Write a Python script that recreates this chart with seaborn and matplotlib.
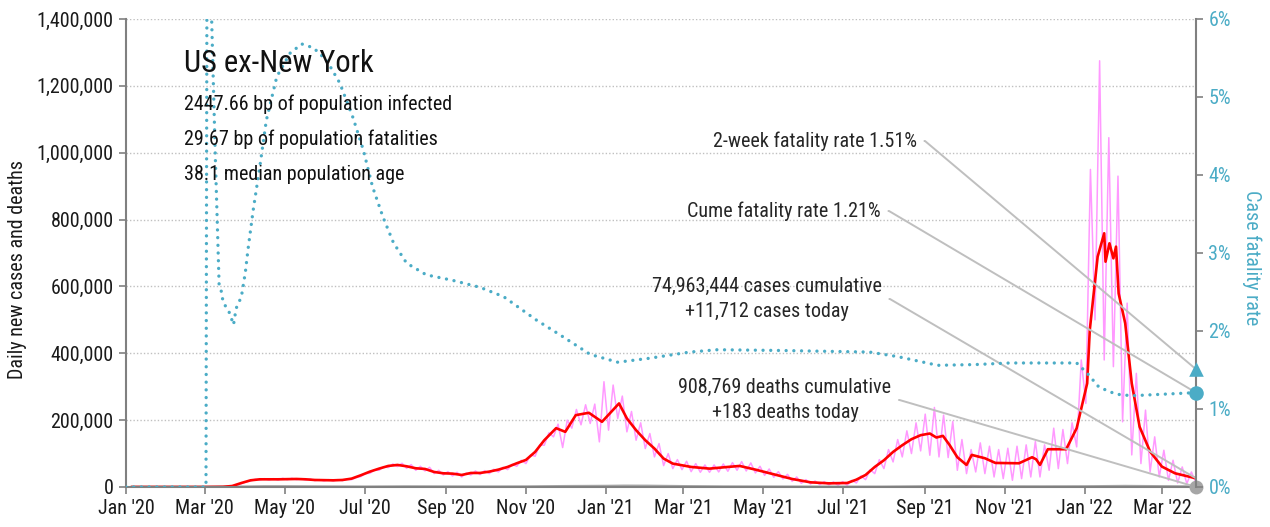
import numpy as np
import pandas as pd
import matplotlib
matplotlib.use("Agg")
import matplotlib.pyplot as plt
import matplotlib.dates as mdates
from matplotlib.ticker import MultipleLocator, FuncFormatter
from matplotlib import font_manager
import seaborn as sns

# ---- data (cases in thousands, CFR in %) ----
# raw daily cases, twice-weekly samples (low, high) starting 2020-03-01
pink_cases = [
    0, 0.2, 0.3, 1, 0.5, 1, 2, 6, 10, 15,                     # Mar 2020
    18, 23, 21, 25, 21, 25, 21, 26,                            # Apr
    22, 26, 22, 25, 21, 24, 19, 22, 18, 22,                    # May
    18, 22, 19, 23, 22, 28, 31, 40,                            # Jun
    41, 51, 50, 61, 58, 69, 61, 71,                            # Jul
    56, 67, 50, 62, 48, 59, 40, 50, 36, 46,                    # Aug
    33, 44, 30, 42, 36, 48, 37, 49,                            # Sep
    40, 53, 45, 59, 52, 68, 62, 80,                            # Oct
    70, 96, 92, 126, 125, 162, 150, 188, 118, 200,             # Nov
    176, 232, 186, 246, 190, 248, 135, 315,                    # Dec
    170, 305, 205, 272, 165, 226, 140, 192, 115, 160,          # Jan 2021
    90, 130, 64, 100, 55, 82, 52, 77,                          # Feb
    46, 70, 44, 66, 44, 66, 45, 69,                            # Mar
    47, 73, 50, 76, 48, 72, 42, 62,                            # Apr
    35, 54, 29, 46, 24, 38, 17, 30, 11, 22,                    # May
    9, 18, 7, 16, 6, 15, 5, 16,                                # Jun
    5, 20, 12, 33, 22, 52, 40, 82,                             # Jul
    55, 112, 75, 142, 90, 168, 100, 192, 108, 218,             # Aug
    95, 238, 90, 215, 88, 196, 50, 142,                        # Sep
    40, 112, 45, 132, 40, 122, 30, 112, 25, 116,               # Oct
    20, 122, 25, 126, 30, 136, 30, 126,                        # Nov
    50, 176, 55, 172, 70, 192, 120, 380,                       # Dec
    250, 950, 500, 1275, 380, 1045, 360, 930, 195, 550,        # Jan 2022
    96, 340, 70, 230, 45, 150, 30, 110,                        # Feb
    20, 80, 12, 60, 10, 45, 12,                                # Mar
]

# 7-day average of cases
red_dates = [
    "2020-01-05", "2020-03-01", "2020-03-15", "2020-03-22", "2020-03-29", "2020-04-05",
    "2020-04-12", "2020-04-26", "2020-05-10", "2020-05-17", "2020-05-24", "2020-06-07",
    "2020-06-14", "2020-06-21", "2020-06-28", "2020-07-05", "2020-07-12", "2020-07-19",
    "2020-07-26", "2020-08-02", "2020-08-09", "2020-08-16", "2020-08-23", "2020-08-30",
    "2020-09-06", "2020-09-13", "2020-09-20", "2020-09-27", "2020-10-04", "2020-10-11",
    "2020-10-18", "2020-10-25", "2020-11-01", "2020-11-08", "2020-11-15", "2020-11-24",
    "2020-12-01", "2020-12-09", "2020-12-19", "2020-12-29", "2021-01-11", "2021-01-17",
    "2021-01-24", "2021-01-31", "2021-02-07", "2021-02-14", "2021-02-21", "2021-03-07",
    "2021-03-21", "2021-04-04", "2021-04-13", "2021-04-25", "2021-05-09", "2021-05-23",
    "2021-06-06", "2021-06-20", "2021-07-04", "2021-07-11", "2021-07-18", "2021-07-25",
    "2021-08-01", "2021-08-08", "2021-08-15", "2021-08-22", "2021-08-29", "2021-09-05",
    "2021-09-10", "2021-09-15", "2021-09-20", "2021-09-26", "2021-10-03", "2021-10-07",
    "2021-10-17", "2021-10-25", "2021-11-12", "2021-11-22", "2021-11-25", "2021-11-28",
    "2021-12-04", "2021-12-18", "2021-12-26", "2022-01-03", "2022-01-05", "2022-01-11",
    "2022-01-16", "2022-01-17", "2022-01-20", "2022-01-23", "2022-01-25", "2022-01-27",
    "2022-02-01", "2022-02-06", "2022-02-12", "2022-02-20", "2022-03-01", "2022-03-11",
    "2022-03-27",
]
red_cases = [
    0, 0, 0.5, 3, 12, 20,
    23, 23, 24, 23, 21, 20,
    21, 25, 35, 46, 55, 63,
    66, 62, 56, 54, 45, 41,
    40, 36, 42, 42, 46, 52,
    60, 71, 81, 105, 140, 176,
    165, 215, 222, 195, 250, 205,
    170, 140, 115, 85, 70, 60,
    55, 60, 63, 52, 38, 24,
    14, 11, 12, 22, 36, 60,
    80, 105, 125, 143, 155, 160,
    148, 153, 126, 89, 66, 96,
    86, 72, 71, 89, 83, 66,
    113, 113, 176, 310, 470, 689,
    759, 674, 729, 684, 719, 579,
    490, 310, 180, 106, 61, 41,
    26,
]

# daily deaths, 7-day average (thousands)
death_dates = [
    "2020-01-05", "2020-03-01", "2020-04-01", "2020-04-15", "2020-05-01", "2020-06-01",
    "2020-07-01", "2020-08-01", "2020-09-01", "2020-10-01", "2020-11-01", "2020-12-01",
    "2021-01-01", "2021-01-15", "2021-02-01", "2021-03-01", "2021-04-01", "2021-05-01",
    "2021-06-01", "2021-07-01", "2021-08-01", "2021-09-01", "2021-10-01", "2021-11-01",
    "2021-12-01", "2022-01-01", "2022-02-01", "2022-03-01", "2022-03-27",
]
death_avg = [
    0, 0, 0.6, 1.4, 1.4, 0.9,
    0.5, 1.1, 0.9, 0.7, 0.9, 2.0,
    2.6, 3.2, 3.0, 1.8, 0.9, 0.7,
    0.45, 0.25, 0.4, 1.4, 1.8, 1.2,
    1.1, 1.3, 2.4, 1.6, 0.9,
]

# case fatality rate (%)
cfr_dates = [
    "2020-01-01", "2020-03-02", "2020-03-03", "2020-03-05", "2020-03-06", "2020-03-09",
    "2020-03-12", "2020-03-14", "2020-03-15", "2020-03-18", "2020-03-20", "2020-03-23",
    "2020-03-25", "2020-03-29", "2020-04-01", "2020-04-03", "2020-04-07", "2020-04-12",
    "2020-04-17", "2020-04-25", "2020-05-05", "2020-05-14", "2020-05-23", "2020-06-02",
    "2020-06-12", "2020-06-22", "2020-06-30", "2020-07-07", "2020-07-15", "2020-07-23",
    "2020-08-02", "2020-08-17", "2020-09-06", "2020-09-27", "2020-10-15", "2020-11-09",
    "2020-11-27", "2020-12-20", "2021-01-10", "2021-02-03", "2021-03-06", "2021-03-27",
    "2021-05-15", "2021-07-21", "2021-08-12", "2021-09-11", "2021-10-10", "2021-11-05",
    "2021-12-26", "2022-01-03", "2022-01-12", "2022-01-25", "2022-02-06", "2022-03-27",
]
cfr_pct = [
    0, 0, 9.0, 7.5, 6.2, 4.3,
    2.6, 2.49, 2.37, 2.29, 2.23, 2.08,
    2.29, 2.44, 2.75, 3.04, 3.55, 4.1,
    4.7, 5.26, 5.56, 5.68, 5.63, 5.47,
    5.18, 4.74, 4.32, 3.85, 3.46, 3.13,
    2.87, 2.72, 2.65, 2.56, 2.44, 2.14,
    1.95, 1.70, 1.60, 1.65, 1.73, 1.76,
    1.75, 1.73, 1.67, 1.56, 1.57, 1.59,
    1.59, 1.46, 1.28, 1.19, 1.17, 1.21,
]

two_week_cfr = 1.51
deaths_today = 183
title = "US ex-New York"
facts = ["2447.66 bp of population infected",
         "29.67 bp of population fatalities",
         "38.1 median population age"]
note_2wk = "2-week fatality rate 1.51%"
note_cume = "Cume fatality rate 1.21%"
note_cases = "74,963,444 cases cumulative\n+11,712 cases today"
note_deaths = "908,769 deaths cumulative\n+183 deaths today"

# ---- tables ----
pink_df = pd.DataFrame({
    "date": pd.date_range("2020-03-01", periods=len(pink_cases), freq="84h"),
    "cases": np.array(pink_cases) * 1000})
red_df = pd.DataFrame({"date": pd.to_datetime(red_dates), "cases": np.array(red_cases) * 1000})
death_df = pd.DataFrame({"date": pd.to_datetime(death_dates), "deaths": np.array(death_avg) * 1000})
cfr_df = pd.DataFrame({"date": pd.to_datetime(cfr_dates), "cfr": cfr_pct})
last_date = red_df["date"].iloc[-1]

# ---- style ----
sns.set_style("white")
names = {f.name for f in font_manager.fontManager.ttflist}
base_font = None
for cand in ["Liberation Sans Narrow", "Roboto Condensed", "Arial Narrow", "Open Sans Condensed"]:
    if cand in names:
        base_font = cand
        break
if base_font is None:
    base_font = "DejaVu Sans"
    plt.rcParams["font.stretch"] = "condensed"
plt.rcParams["font.family"] = [base_font, "DejaVu Sans"]

TEAL = "#4bacc6"
GREY = "#808080"
LEADER = "#bfbfbf"
FS = 14.5

fig = plt.figure(figsize=(12.7, 5.27), dpi=100)
ax = fig.add_axes([126 / 1270, 40 / 527, 1070 / 1270, 468 / 527])
ax2 = ax.twinx()

sns.lineplot(data=pink_df, x="date", y="cases", ax=ax, color="#ff99ff", lw=1.1, errorbar=None)
sns.lineplot(data=death_df, x="date", y="deaths", ax=ax, color="#a6a6a6", lw=2.0, errorbar=None)
sns.lineplot(data=red_df, x="date", y="cases", ax=ax, color="#ff0000", lw=1.9, errorbar=None)

sns.lineplot(data=cfr_df, x="date", y="cfr", ax=ax2, color=TEAL, lw=2.4,
             linestyle=(0, (0.01, 2.3)), dash_capstyle="round", errorbar=None)

# end markers
sns.scatterplot(x=[last_date], y=[two_week_cfr], ax=ax2, marker="^", s=110,
                color=TEAL, linewidth=0, clip_on=False, zorder=6)
sns.scatterplot(x=[last_date], y=[cfr_df["cfr"].iloc[-1]], ax=ax2, marker="o", s=110,
                color=TEAL, linewidth=0, clip_on=False, zorder=6)
sns.scatterplot(x=[last_date], y=[deaths_today], ax=ax, marker="o", s=100,
                color="#a6a6a6", linewidth=0, clip_on=False, zorder=6)

# ---- axes ----
start = pd.Timestamp("2020-01-01")
ax.set_xlim(start, last_date)
ax.set_ylim(0, 1_400_000)
ax2.set_ylim(0, 6)

ax.yaxis.set_major_locator(MultipleLocator(200_000))
ax.yaxis.set_major_formatter(FuncFormatter(lambda v, p: f"{v:,.0f}"))
ax.xaxis.set_major_locator(mdates.MonthLocator(bymonth=[1, 3, 5, 7, 9, 11]))
ax.xaxis.set_major_formatter(mdates.DateFormatter("%b '%y"))
ax2.yaxis.set_major_locator(MultipleLocator(1))
ax2.yaxis.set_major_formatter(FuncFormatter(lambda v, p: f"{v:.0f}%"))

ax.grid(axis="y", color="#c0c0c0", lw=1.0, ls=(0, (1, 1.5)))
ax.grid(axis="x", visible=False)
ax2.grid(False)

for a in (ax, ax2):
    a.spines["top"].set_visible(False)
ax.spines["right"].set_visible(False)
ax2.spines["left"].set_visible(False)
ax2.spines["bottom"].set_visible(False)
for sp in (ax.spines["left"], ax.spines["bottom"], ax2.spines["right"]):
    sp.set_color(GREY)
    sp.set_linewidth(1.5)

ax.tick_params(axis="both", which="major", length=5, width=1.2, color=GREY,
               labelsize=FS, labelcolor="#1a1a1a", direction="out", pad=4)
ax.tick_params(axis="y", left=True)
ax.tick_params(axis="x", bottom=True)
ax2.tick_params(axis="y", length=5, width=1.2, color=GREY, labelsize=FS,
                labelcolor=TEAL, direction="out", pad=4, right=True)

ax.set_xlabel("")
ax.set_ylabel("Daily new cases and deaths", fontsize=FS, color="#1a1a1a")
ax.yaxis.set_label_coords(-0.0925, 0.464)
ax2.set_ylabel("Case fatality rate", fontsize=FS, color=TEAL, rotation=270, va="bottom")
ax2.yaxis.set_label_coords(1.043, 0.49)
ax2.set_xlabel("")

# ---- title block ----
fig.text(184 / 1270, 1 - 64 / 527, title, fontsize=22, ha="left", va="center", color="#111111")
for i, line in enumerate(facts):
    fig.text(184 / 1270, 1 - (104 + 35 * i) / 527, line, fontsize=FS,
             ha="left", va="center", color="#111111")

# ---- leader-line notes ----
leader = dict(arrowstyle="-", color=LEADER, lw=1.4, shrinkA=3, shrinkB=0, relpos=(1, 0.5),
              connectionstyle="arc,angleA=0,armA=8,angleB=0,armB=0,rad=0")
xd = mdates.date2num(last_date)
ax2.annotate(note_2wk, xy=(xd, two_week_cfr), xycoords="data",
             xytext=(917, 527 - 141), textcoords="figure pixels",
             ha="right", va="center", fontsize=FS, arrowprops=leader)
ax2.annotate(note_cume, xy=(xd, cfr_df["cfr"].iloc[-1]), xycoords="data",
             xytext=(881, 527 - 211), textcoords="figure pixels",
             ha="right", va="center", fontsize=FS, arrowprops=leader)
ax.annotate(note_cases, xy=(xd, red_df["cases"].iloc[-1]), xycoords="data",
            xytext=(767, 527 - 299), textcoords="figure pixels",
            ha="center", va="center", multialignment="center", linespacing=1.35,
            fontsize=FS, arrowprops=leader)
ax.annotate(note_deaths, xy=(xd, deaths_today), xycoords="data",
            xytext=(785, 527 - 400), textcoords="figure pixels",
            ha="center", va="center", multialignment="center", linespacing=1.35,
            fontsize=FS, arrowprops=leader)

ax.set_xlim(start, last_date)
fig.savefig("out.png", dpi=100)
